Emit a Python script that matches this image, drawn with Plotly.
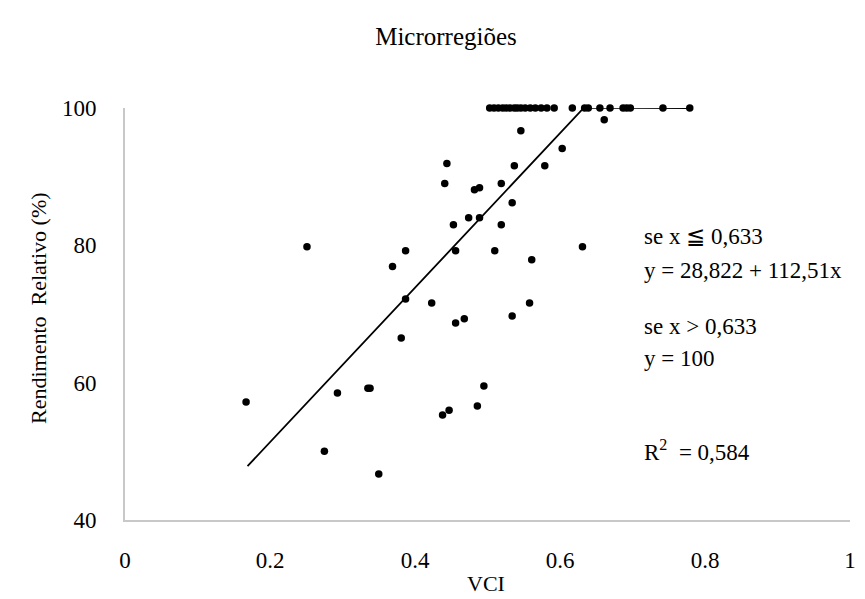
import plotly.graph_objects as go

# Observed points (VCI vs Rendimento Relativo %)
vci = [0.167, 0.251, 0.275, 0.293, 0.335, 0.338, 0.350, 0.369, 0.381, 0.387, 0.387,
       0.423, 0.438, 0.441, 0.444, 0.447, 0.453, 0.456, 0.456, 0.468, 0.474, 0.482,
       0.486, 0.489, 0.489, 0.495, 0.510, 0.519, 0.519, 0.534, 0.534, 0.537, 0.546,
       0.558, 0.561, 0.579, 0.603, 0.631, 0.661,
       0.503, 0.509, 0.515, 0.521, 0.526, 0.531, 0.537, 0.541, 0.546, 0.552, 0.559,
       0.566, 0.574, 0.582, 0.592,
       0.617, 0.634, 0.639, 0.655, 0.669, 0.687, 0.692, 0.697, 0.742, 0.779]
rend = [57.2, 79.8, 50.0, 58.5, 59.2, 59.2, 46.7, 76.9, 66.5, 72.2, 79.2,
        71.6, 55.3, 89.0, 91.9, 56.0, 83.0, 68.7, 79.2, 69.3, 84.0, 88.1,
        56.6, 88.4, 84.0, 59.5, 79.2, 89.0, 83.0, 86.2, 69.7, 91.6, 96.7,
        71.6, 77.9, 91.6, 94.1, 79.8, 98.3,
        100, 100, 100, 100, 100, 100, 100, 100, 100, 100, 100,
        100, 100, 100, 100,
        100, 100, 100, 100, 100, 100, 100, 100, 100, 100]

# Fitted plateau model
intercept = 28.822
slope = 112.51
breakpoint = 0.633
fit_x = [0.169, breakpoint, 0.779]
fit_y = [intercept + slope * x if x <= breakpoint else 100 for x in fit_x]

x_ticks = [0, 0.2, 0.4, 0.6, 0.8, 1]
x_ticklabels = ["0", "0.2", "0.4", "0.6", "0.8", "1"]
y_ticks = [40, 60, 80, 100]

FONT = "Liberation Serif, Times New Roman, serif"
W, H = 865, 599
L, R, T, B = 117, 23, 100, 87
PW, PH = W - L - R, H - T - B

fig = go.Figure()
fig.add_trace(go.Scatter(x=fit_x, y=fit_y, mode="lines",
                         line=dict(color="black", width=1.8),
                         hoverinfo="skip", cliponaxis=False))
fig.add_trace(go.Scatter(x=vci, y=rend, mode="markers",
                         marker=dict(color="black", size=7.5),
                         cliponaxis=False))

ann_font = dict(family=FONT, size=23, color="black")
annots = [
    ("se x ≦ 0,633", 228),
    ("y = 28,822 + 112,51x", 262),
    ("se x > 0,633", 318),
    ("y = 100", 350),
    ("R<sup>2</sup>  = 0,584", 442),
]
for txt, ypx in annots:
    fig.add_annotation(text=txt, xref="paper", yref="paper",
                       x=(634 - L) / PW, y=(H - B - ypx) / PH,
                       xanchor="left", yanchor="middle", showarrow=False,
                       font=ann_font)

# axis titles
fig.add_annotation(text="VCI", xref="paper", yref="paper",
                   x=(478 - L) / PW, y=(H - B - 575) / PH,
                   xanchor="center", yanchor="middle", showarrow=False,
                   font=dict(family=FONT, size=22, color="black"))
fig.add_annotation(text="Rendimento  Relativo (%)", xref="paper", yref="paper",
                   x=(30 - L) / PW, y=(H - B - 300) / PH, textangle=-90,
                   xanchor="center", yanchor="middle", showarrow=False,
                   font=dict(family=FONT, size=22, color="black"))

fig.update_layout(
    width=W, height=H,
    margin=dict(l=L, r=R, t=T, b=B),
    paper_bgcolor="white", plot_bgcolor="white",
    showlegend=False,
    font=dict(family=FONT, size=23, color="black"),
    title=dict(text="Microrregiões", x=438 / W, xanchor="center",
               y=1 - 28 / H, yanchor="middle",
               font=dict(family=FONT, size=25, color="black")),
)
fig.update_xaxes(range=[0, 1], tickvals=x_ticks, ticktext=x_ticklabels,
                 showgrid=False, zeroline=False, showline=True,
                 linecolor="#c8c8c8", linewidth=2, ticks="",
                 ticklabelstandoff=18, automargin=False,
                 tickfont=dict(family=FONT, size=23))
fig.update_yaxes(range=[40, 100], tickvals=y_ticks,
                 showgrid=False, zeroline=False, showline=True,
                 linecolor="#c8c8c8", linewidth=2, ticks="",
                 ticklabelstandoff=22, automargin=False,
                 tickfont=dict(family=FONT, size=23))

fig.write_html("out.html")
